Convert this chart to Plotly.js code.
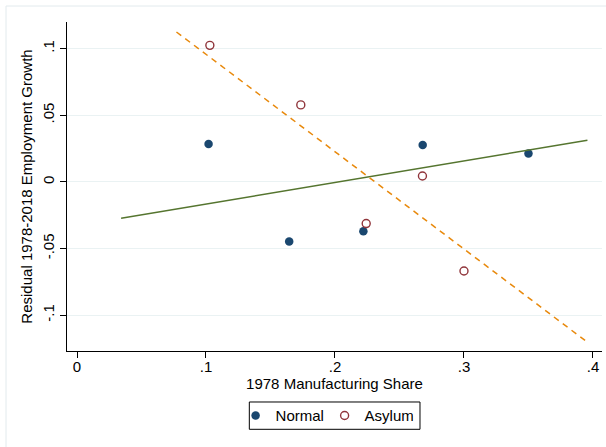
<!DOCTYPE html>
<html>
<head>
<meta charset="utf-8">
<script src="https://cdn.plot.ly/plotly-3.0.1.min.js"></script>
<style>
html,body{margin:0;padding:0;background:#fff;}
#chart{width:606px;height:447px;}
</style>
</head>
<body>
<div id="chart"></div>
<script>
// Data
var normalX = [0.102, 0.1645, 0.222, 0.268, 0.350];
var normalY = [0.0285, -0.0447, -0.037, 0.0278, 0.0213];
var asylumX = [0.103, 0.1735, 0.2242, 0.2678, 0.300];
var asylumY = [0.1025, 0.0578, -0.0312, 0.0045, -0.0668];
// Fitted lines (endpoints)
var fitNormalX = [0.0342, 0.3957];
var fitNormalY = [-0.0272, 0.0313];
var fitAsylumX = [0.0771, 0.3954];
var fitAsylumY = [0.1125, -0.1200];
// Ticks
var xTickVals = [0, 0.1, 0.2, 0.3, 0.4];
var xTickText = ['0', '.1', '.2', '.3', '.4'];
var yTickVals = [-0.1, -0.05, 0, 0.05, 0.1];
var yTickText = ['-.1', '-.05', '0', '.05', '.1'];

var font = 'Liberation Sans, Arial, sans-serif';

var traces = [
  {x: normalX, y: normalY, type: 'scatter', mode: 'markers', name: 'Normal',
   marker: {color: '#1a476f', size: 8.5, line: {width: 0}}},
  {x: asylumX, y: asylumY, type: 'scatter', mode: 'markers', name: 'Asylum',
   marker: {symbol: 'circle-open', color: '#90353b', size: 8, line: {width: 1.4, color: '#90353b'}}},
  {x: fitNormalX, y: fitNormalY, type: 'scatter', mode: 'lines', showlegend: false,
   line: {color: '#55752f', width: 1.4}},
  {x: fitAsylumX, y: fitAsylumY, type: 'scatter', mode: 'lines', showlegend: false,
   line: {color: '#e8890c', width: 1.5, dash: '6px,5px'}}
];

var layout = {
  width: 606, height: 447,
  margin: {l: 67, r: 4, t: 22, b: 96, autoexpand: false},
  paper_bgcolor: '#ffffff', plot_bgcolor: '#ffffff',
  font: {family: font, size: 15, color: '#000'},
  showlegend: true,
  legend: {
    orientation: 'h', x: 0.4815, xanchor: 'center', y: -0.1967, yanchor: 'middle',
    borderwidth: 0, bgcolor: 'rgba(0,0,0,0)',
    font: {family: font, size: 15, color: '#000'},
    entrywidth: 44, entrywidthmode: 'pixels', tracegroupgap: 0
  },
  xaxis: {
    range: [-0.00775, 0.407], tickvals: xTickVals, ticktext: xTickText,
    showgrid: false, zeroline: false, showline: true, linecolor: '#000', linewidth: 1,
    ticks: 'outside', ticklen: 6, tickcolor: '#000', tickwidth: 1, ticklabelstandoff: -4,
    tickfont: {family: font, size: 15, color: '#000'},
    title: {text: '1978 Manufacturing Share', font: {family: font, size: 15, color: '#000'}, standoff: 0}
  },
  yaxis: {
    range: [-0.1268, 0.12], tickvals: yTickVals, ticktext: yTickText, tickangle: -90,
    showgrid: true, gridcolor: '#eaf2f3', gridwidth: 1,
    zeroline: false, showline: true, linecolor: '#000', linewidth: 1,
    ticks: 'outside', ticklen: 6, tickcolor: '#000', tickwidth: 1,
    tickfont: {family: font, size: 15, color: '#000'},
    title: {text: 'Residual 1978-2018 Employment Growth', font: {family: font, size: 15, color: '#000'}, standoff: 3}
  },
  shapes: [
    {type: 'rect', xref: 'paper', yref: 'paper', x0: -0.114, x1: 1.2, y0: -0.6, y1: 1.0486,
     line: {color: '#e2eaed', width: 1}, fillcolor: 'rgba(0,0,0,0)', layer: 'below'},
    {type: 'rect', xref: 'paper', yref: 'paper', x0: 0.3408, x1: 0.6598, y0: -0.238, y1: -0.155,
     line: {color: '#000', width: 1}, fillcolor: 'rgba(0,0,0,0)', layer: 'above'}
  ]
};

Plotly.newPlot('chart', traces, layout, {displayModeBar: false, staticPlot: true});
</script>
</body>
</html>
